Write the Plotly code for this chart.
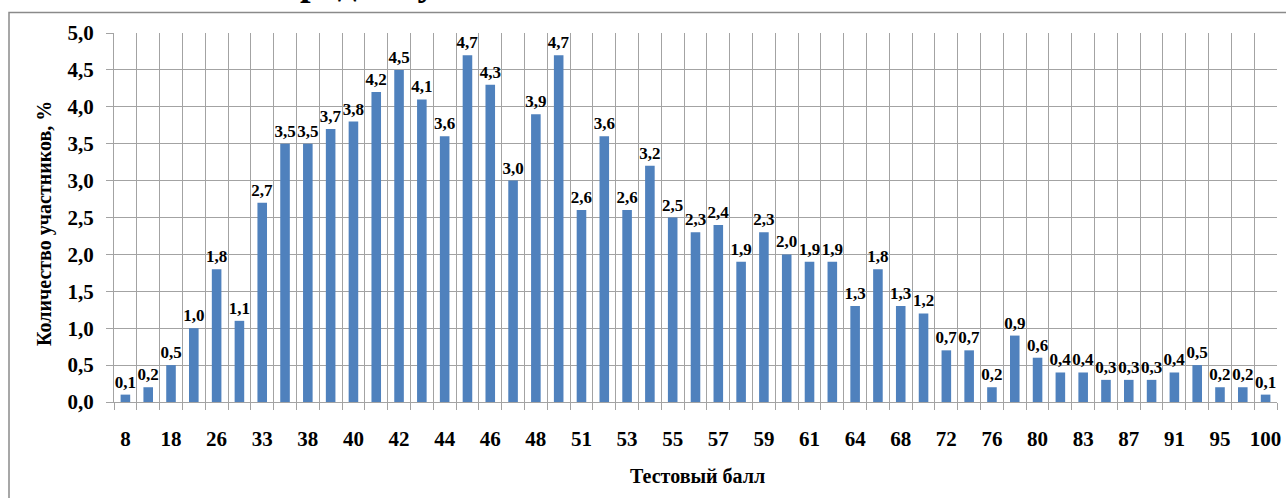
import numpy as np
import plotly.graph_objects as go

# Share of participants (%) for each test score column
values = [
    0.1, 0.2, 0.5, 1.0, 1.8, 1.1, 2.7, 3.5, 3.5, 3.7,
    3.8, 4.2, 4.5, 4.1, 3.6, 4.7, 4.3, 3.0, 3.9, 4.7,
    2.6, 3.6, 2.6, 3.2, 2.5, 2.3, 2.4, 1.9, 2.3, 2.0,
    1.9, 1.9, 1.3, 1.8, 1.3, 1.2, 0.7, 0.7, 0.2, 0.9,
    0.6, 0.4, 0.4, 0.3, 0.3, 0.3, 0.4, 0.5, 0.2, 0.2, 0.1,
]
# Score labels printed under every second column
score_labels = [
    "8", "18", "26", "33", "38", "40", "42", "44", "46", "48", "51", "53", "55",
    "57", "59", "61", "64", "68", "72", "76", "80", "83", "87", "91", "95", "100",
]
y_ticks = [0.0, 0.5, 1.0, 1.5, 2.0, 2.5, 3.0, 3.5, 4.0, 4.5, 5.0]

x_title = "<b>Тестовый балл</b>"
y_title = "<b>Количество участников, %</b>"
chart_title = "<b>предмету</b>"

FONT = "Times New Roman"
BAR = "#4F81BD"
GRID = "#a3a3a3"

W, H = 1286, 498
ML, MR, MT, MB = 114, 9, 33, 96
PW, PH = W - ML - MR, H - MT - MB


def px_x(p):
    return (p - ML) / PW


def px_y(p):
    return 1 - (p - MT) / PH


n = len(values)
x = np.arange(n)
bounds = np.arange(n + 1) - 0.5
bar_text = ["<b>" + f"{v:.1f}".replace(".", ",") + "</b>" for v in values]
tick_text = ["<b>" + s + "</b>" for s in score_labels]
y_text = ["<b>" + f"{v:.1f}".replace(".", ",") + "</b>" for v in y_ticks]

fig = go.Figure(
    go.Bar(
        x=x,
        y=values,
        width=0.42,
        marker=dict(color=BAR, line=dict(width=0)),
        text=bar_text,
        texttemplate="%{text}",
        textposition="outside",
        constraintext="none",
        cliponaxis=False,
        textfont=dict(family=FONT, size=17, color="black"),
        hoverinfo="skip",
    )
)

fig.update_layout(
    width=W,
    height=H,
    margin=dict(l=ML, r=MR, t=MT, b=MB, autoexpand=False),
    paper_bgcolor="white",
    plot_bgcolor="white",
    showlegend=False,
    font=dict(family=FONT, color="black"),
    xaxis=dict(
        range=[-0.5, n - 0.5],
        tickmode="array",
        tickvals=x[::2],
        ticktext=tick_text,
        ticks="",
        showgrid=False,
        zeroline=False,
        showline=True,
        linecolor=GRID,
        linewidth=1,
        ticklabelstandoff=18,
        tickfont=dict(family=FONT, size=21, color="black"),
        minor=dict(
            tickmode="array",
            tickvals=bounds,
            showgrid=True,
            gridcolor=GRID,
            gridwidth=1,
            ticks="outside",
            ticklen=7,
            tickcolor=GRID,
            tickwidth=1,
        ),
    ),
    yaxis=dict(
        range=[0, 5],
        tickmode="array",
        tickvals=y_ticks,
        ticktext=y_text,
        showgrid=True,
        gridcolor=GRID,
        gridwidth=1,
        zeroline=False,
        showline=True,
        linecolor=GRID,
        linewidth=1,
        ticks="outside",
        ticklen=7,
        tickcolor=GRID,
        ticklabelstandoff=8,
        tickfont=dict(family=FONT, size=21, color="black"),
    ),
    shapes=[
        # outer chart frame
        dict(
            type="rect",
            xref="paper",
            yref="paper",
            x0=px_x(9),
            x1=px_x(1400),
            y0=px_y(700),
            y1=px_y(12.5),
            line=dict(color="#8a8a8a", width=1.5),
            fillcolor="rgba(0,0,0,0)",
            layer="below",
        )
    ],
    annotations=[
        dict(
            text=y_title,
            xref="paper",
            yref="paper",
            x=px_x(44),
            y=px_y(224),
            xanchor="center",
            yanchor="middle",
            textangle=-90,
            showarrow=False,
            font=dict(family=FONT, size=20, color="black"),
        ),
        dict(
            text=x_title,
            xref="paper",
            yref="paper",
            x=px_x(697),
            y=px_y(476),
            xanchor="center",
            yanchor="middle",
            showarrow=False,
            font=dict(family=FONT, size=20, color="black"),
        ),
        dict(
            text=chart_title,
            xref="paper",
            yref="paper",
            x=px_x(276),
            y=px_y(5),
            xanchor="left",
            yanchor="bottom",
            showarrow=False,
            font=dict(family=FONT, size=38, color="black"),
        ),
    ],
)

fig.write_html("out.html")
